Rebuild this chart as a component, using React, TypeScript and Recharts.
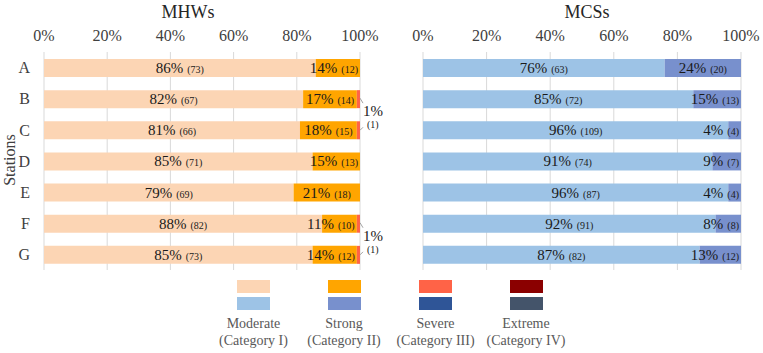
import React from "react";
import { BarChart, Bar, XAxis, YAxis, CartesianGrid, LabelList, Rectangle } from "recharts";

// Stations and the share (%) / count of events per category
const STATIONS = ["A", "B", "C", "D", "E", "F", "G"];

const MHW_PCT_MODERATE = [86, 82, 81, 85, 79, 88, 85];
const MHW_PCT_STRONG = [14, 17, 18, 15, 21, 11, 14];
const MHW_PCT_SEVERE = [0, 1, 1, 0, 0, 1, 1];
const MHW_PCT_EXTREME = [0, 0, 0, 0, 0, 0, 0];
const MHW_N_MODERATE = [73, 67, 66, 71, 69, 82, 73];
const MHW_N_STRONG = [12, 14, 15, 13, 18, 10, 12];
const MHW_N_SEVERE = [0, 1, 1, 0, 0, 1, 1];

const MCS_PCT_MODERATE = [76, 85, 96, 91, 96, 92, 87];
const MCS_PCT_STRONG = [24, 15, 4, 9, 4, 8, 13];
const MCS_PCT_SEVERE = [0, 0, 0, 0, 0, 0, 0];
const MCS_PCT_EXTREME = [0, 0, 0, 0, 0, 0, 0];
const MCS_N_MODERATE = [63, 72, 109, 74, 87, 91, 82];
const MCS_N_STRONG = [20, 13, 4, 7, 4, 8, 12];

const X_TICKS = [0, 20, 40, 60, 80, 100];

const CATEGORIES = [
  { name: "Moderate", sub: "(Category I)" },
  { name: "Strong", sub: "(Category II)" },
  { name: "Severe", sub: "(Category III)" },
  { name: "Extreme", sub: "(Category IV)" },
];

const MHW_COLORS = ["#fcd5b4", "#ffa500", "#ff6347", "#8b0000"];
const MCS_COLORS = ["#9dc3e6", "#7890cd", "#2f5597", "#44546a"];

const FONT = "Liberation Serif, Tinos, DejaVu Serif, serif";
const INK = "#1a1a1a";
const AXIS_INK = "#404040";

type Row = {
  station: string;
  moderate: number;
  strong: number;
  severe: number;
  extreme: number;
  nModerate: number;
  nStrong: number;
  nSevere: number;
};

const mhwRows: Row[] = STATIONS.map((s, i) => ({
  station: s,
  moderate: MHW_PCT_MODERATE[i],
  strong: MHW_PCT_STRONG[i],
  severe: MHW_PCT_SEVERE[i],
  extreme: MHW_PCT_EXTREME[i],
  nModerate: MHW_N_MODERATE[i],
  nStrong: MHW_N_STRONG[i],
  nSevere: MHW_N_SEVERE[i],
}));

const mcsRows: Row[] = STATIONS.map((s, i) => ({
  station: s,
  moderate: MCS_PCT_MODERATE[i],
  strong: MCS_PCT_STRONG[i],
  severe: MCS_PCT_SEVERE[i],
  extreme: MCS_PCT_EXTREME[i],
  nModerate: MCS_N_MODERATE[i],
  nStrong: MCS_N_STRONG[i],
  nSevere: 0,
}));

// rough Liberation Serif width of "86% (73)"
const labelWidth = (pct: number, n: number) =>
  15 * (0.5 * String(pct).length + 0.833) + 4 + 10 * (0.667 + 0.5 * String(n).length);

function makeSegLabel(rows: Row[], countKey: "nModerate" | "nStrong", clamp: boolean) {
  return (props: any) => {
    const { x, y, width, height, value, index } = props;
    if (!value) return null;
    const n = rows[index][countKey];
    const w = labelWidth(value, n);
    let cx = x + width / 2;
    const right = x + width - 2;
    if (clamp && cx + w / 2 > right) cx = right - w / 2;
    const base = y + height / 2 + 5;
    return (
      <text x={cx} y={base} textAnchor="middle" fontFamily={FONT} fill={INK}>
        <tspan fontSize={15}>{`${value}%`}</tspan>
        <tspan fontSize={10} dx={4}>{`(${n})`}</tspan>
      </text>
    );
  };
}

// thin severe slice with its "1%" / "(1)" callout outside the bar end
function makeSevereShape(rows: Row[]) {
  return (props: any) => {
    const { x, y, width, height, payload, fill } = props;
    if (!payload || !payload.severe) return <g />;
    const i = rows.findIndex((r) => r.station === payload.station);
    const end = x + width;
    const yc = y + height / 2;
    const nextHas = rows[i + 1] && rows[i + 1].severe > 0;
    const prevHas = i > 0 && rows[i - 1].severe > 0;
    return (
      <g>
        <Rectangle x={x} y={y} width={width} height={height} fill={fill} />
        {(nextHas || !prevHas) && (
          <g>
            <line x1={end} y1={yc - 1} x2={end + 3} y2={yc + 4} stroke="#8c8c8c" strokeWidth={0.8} />
            <text x={end + 3} y={yc + 17} fontSize={15} fontFamily={FONT} fill={INK}>
              {`${payload.severe}%`}
            </text>
          </g>
        )}
        {(prevHas || !nextHas) && (
          <g>
            <line x1={end} y1={yc} x2={end + 3} y2={yc - 3} stroke="#8c8c8c" strokeWidth={0.8} />
            <text x={end + 7} y={yc - 2} fontSize={10} fontFamily={FONT} fill={INK}>
              {`(${payload.nSevere})`}
            </text>
          </g>
        )}
      </g>
    );
  };
}

function Panel({
  rows,
  colors,
  showY,
  width,
  marginLeft,
  marginRight,
}: {
  rows: Row[];
  colors: string[];
  showY: boolean;
  width: number;
  marginLeft: number;
  marginRight: number;
}) {
  return (
    <BarChart
      width={width}
      height={280}
      data={rows}
      layout="vertical"
      barCategoryGap={0}
      margin={{ top: 22, right: marginRight, bottom: 10, left: marginLeft }}
    >
      <CartesianGrid horizontal={false} stroke="#d9d9d9" />
      <XAxis
        type="number"
        orientation="top"
        domain={[0, 100]}
        ticks={X_TICKS}
        tickFormatter={(v) => `${v}%`}
        axisLine={false}
        tickLine={false}
        height={30}
        tickMargin={5}
        tick={{ fill: AXIS_INK, fontSize: 16, fontFamily: FONT }}
      />
      <YAxis
        type="category"
        dataKey="station"
        hide={!showY}
        width={44}
        axisLine={false}
        tickLine={false}
        tickMargin={8}
        tick={{ fill: AXIS_INK, fontSize: 16, fontFamily: FONT }}
      />
      <Bar dataKey="moderate" stackId="s" fill={colors[0]} barSize={18} isAnimationActive={false}>
        <LabelList dataKey="moderate" content={makeSegLabel(rows, "nModerate", false)} />
      </Bar>
      <Bar dataKey="strong" stackId="s" fill={colors[1]} barSize={18} isAnimationActive={false}>
        <LabelList dataKey="strong" content={makeSegLabel(rows, "nStrong", true)} />
      </Bar>
      <Bar
        dataKey="severe"
        stackId="s"
        fill={colors[2]}
        barSize={18}
        isAnimationActive={false}
        shape={makeSevereShape(rows)}
      />
      <Bar dataKey="extreme" stackId="s" fill={colors[3]} barSize={18} isAnimationActive={false} />
    </BarChart>
  );
}

export default function App() {
  const legendCenters = [253.5, 344, 435.5, 526];
  return (
    <div
      style={{
        position: "absolute",
        left: 0,
        top: 0,
        width: 763,
        height: 353,
        background: "#fff",
        fontFamily: FONT,
        overflow: "hidden",
      }}
    >
      <div style={{ position: "absolute", left: 0, top: 0 }}>
        <Panel rows={mhwRows} colors={MHW_COLORS} showY width={395} marginLeft={0} marginRight={35} />
      </div>
      <div style={{ position: "absolute", left: 380, top: 0 }}>
        <Panel rows={mcsRows} colors={MCS_COLORS} showY={false} width={383} marginLeft={43} marginRight={22} />
      </div>

      <div
        style={{
          position: "absolute",
          left: 138,
          top: 0,
          width: 100,
          textAlign: "center",
          fontSize: 18,
          lineHeight: "24px",
          color: "#262626",
        }}
      >
        MHWs
      </div>
      <div
        style={{
          position: "absolute",
          left: 537,
          top: 0,
          width: 100,
          textAlign: "center",
          fontSize: 18,
          lineHeight: "24px",
          color: "#262626",
        }}
      >
        MCSs
      </div>

      <div
        style={{
          position: "absolute",
          left: 10,
          top: 160,
          transform: "translate(-50%, -50%) rotate(-90deg)",
          fontSize: 16,
          color: AXIS_INK,
          whiteSpace: "nowrap",
        }}
      >
        Stations
      </div>

      {CATEGORIES.map((c, i) => (
        <div key={c.name}>
          <div
            style={{
              position: "absolute",
              left: legendCenters[i] - 16.5,
              top: 280,
              width: 33,
              height: 12.5,
              background: MHW_COLORS[i],
            }}
          />
          <div
            style={{
              position: "absolute",
              left: legendCenters[i] - 16.5,
              top: 297,
              width: 33,
              height: 12.5,
              background: MCS_COLORS[i],
            }}
          />
          <div
            style={{
              position: "absolute",
              left: legendCenters[i] - 50,
              top: 316,
              width: 100,
              textAlign: "center",
              fontSize: 14,
              lineHeight: "16.5px",
              color: "#595959",
              whiteSpace: "nowrap",
            }}
          >
            <div>{c.name}</div>
            <div>{c.sub}</div>
          </div>
        </div>
      ))}
    </div>
  );
}
